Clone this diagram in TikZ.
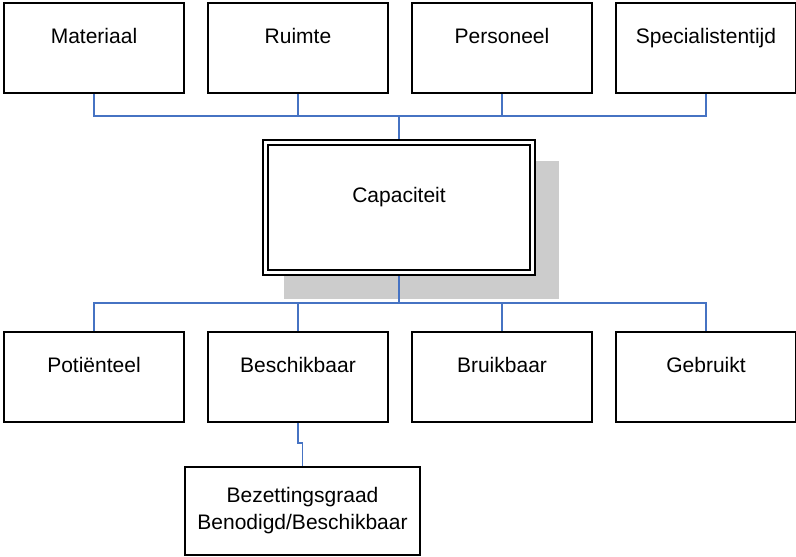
\documentclass[tikz,border=0pt]{standalone}
\usepackage{fontspec}
\setmainfont{Liberation Sans}
\usetikzlibrary{positioning, backgrounds}
\definecolor{linkblue}{RGB}{70,115,195}
\tikzset{
x=0.5pt, y=-0.5pt, % one unit is one pixel, y runs down
node distance=11pt, % gap between two boxes of a row
box/.style={draw, line width=1pt, minimum width=90pt, minimum height=45pt, inner sep=0pt, text height=8pt, text depth=13pt, font=\fontsize{10.5}{12.6}\selectfont}, % the plain boxes, text set high
mainbox/.style={box, fill=white, double, double distance=1.3pt, minimum width=133.3pt, minimum height=65pt, outer sep=1.65pt}, % the central box
lowbox/.style={draw, line width=1pt, minimum width=117.5pt, minimum height=44pt, align=center, font=\fontsize{10.5}{13.5}\selectfont}, % the box at the bottom
link/.style={draw=linkblue, line width=0.9pt}, % the blue connectors
}

\begin{document}
\begin{tikzpicture}
      \useasboundingbox (0,0) rectangle (796,556);

      \node[box] (mat) at (94,48.5) {Materiaal};
      \node[box, right=of mat] (ruim) {Ruimte};
      \node[box, right=of ruim] (pers) {Personeel};
      \node[box, right=of pers] (spec) {Specialistentijd};

      \node[mainbox] (cap) at (399,207.7) {Capaciteit};

      \node[box] (pot) at (94,377) {Potiënteel};
      \node[box, right=of pot] (besch) {Beschikbaar};
      \node[box, right=of besch] (bruik) {Bruikbaar};
      \node[box, right=of bruik] (gebr) {Gebruikt};

      \node[lowbox] (bez) at (302.5,511) {Bezettingsgraad\\Benodigd/Beschikbaar};

      % shadow behind the central box
      \begin{scope}[on background layer]
      \fill[black!20] ([shift={(22,22)}]cap.north west) rectangle ([shift={(23,23)}]cap.south east);
      \end{scope}

      \draw[link]
      (mat.south) -- ++(0,21.5) -| (cap.north)
      (ruim.south) -- ++(0,21.5)
      (pers.south) -- ++(0,21.5)
      (spec.south) -- ++(0,21.5) -| (cap.north)
      (cap.south) -- ++(0,27) -| (pot.north)
      (cap.south) -- ++(0,27) -| (gebr.north)
      (besch.north) -- ++(0,-29)
      (bruik.north) -- ++(0,-29)
      (besch.south) -- ++(0,20) -| (bez.north)
      ;
    \end{tikzpicture}
\end{document}
